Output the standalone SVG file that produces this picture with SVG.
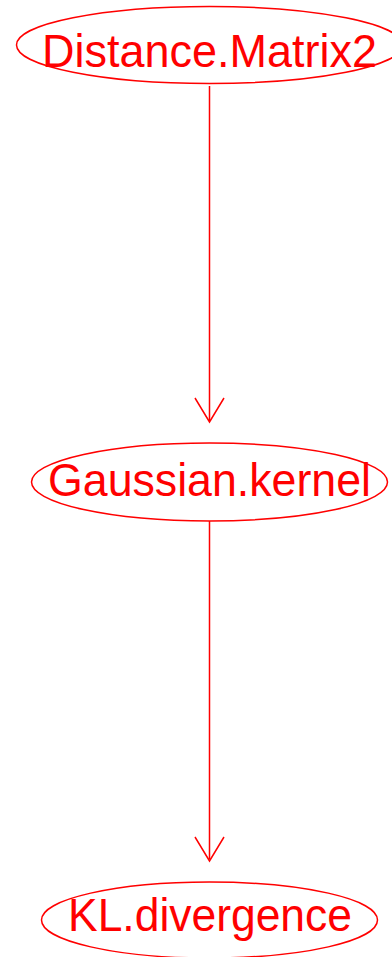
<svg xmlns="http://www.w3.org/2000/svg" width="392" height="957" viewBox="0 0 392 957">
<style>
.n ellipse{fill:none;stroke:#ff0000;stroke-width:1.5}
.n text{fill:#ff0000;font-family:"Liberation Sans",Arial,sans-serif;font-size:46px;text-anchor:middle}
.e{stroke:#ff0000;stroke-width:1.5;fill:none}
</style>
<rect width="392" height="957" fill="#ffffff"/>
<g id="connectors">
<path class="e" d="M209.5,86 V421"/>
<path class="e" d="M195,398 L209.5,422 L224,398"/>
<path class="e" d="M209.5,521 V859"/>
<path class="e" d="M195,837 L209.5,861 L224,837"/>
</g>
<g id="n1" class="n">
<ellipse cx="209.5" cy="45" rx="193" ry="38.5"/>
<text x="209.5" y="67" textLength="335" lengthAdjust="spacingAndGlyphs">Distance.Matrix2</text>
</g>
<g id="n2" class="n">
<ellipse cx="209.5" cy="482" rx="178" ry="39"/>
<text x="209.5" y="496" textLength="323" lengthAdjust="spacingAndGlyphs">Gaussian.kernel</text>
</g>
<g id="n3" class="n">
<ellipse cx="209.5" cy="920" rx="168" ry="38"/>
<text x="210" y="931" textLength="284" lengthAdjust="spacingAndGlyphs">KL.divergence</text>
</g>
</svg>
